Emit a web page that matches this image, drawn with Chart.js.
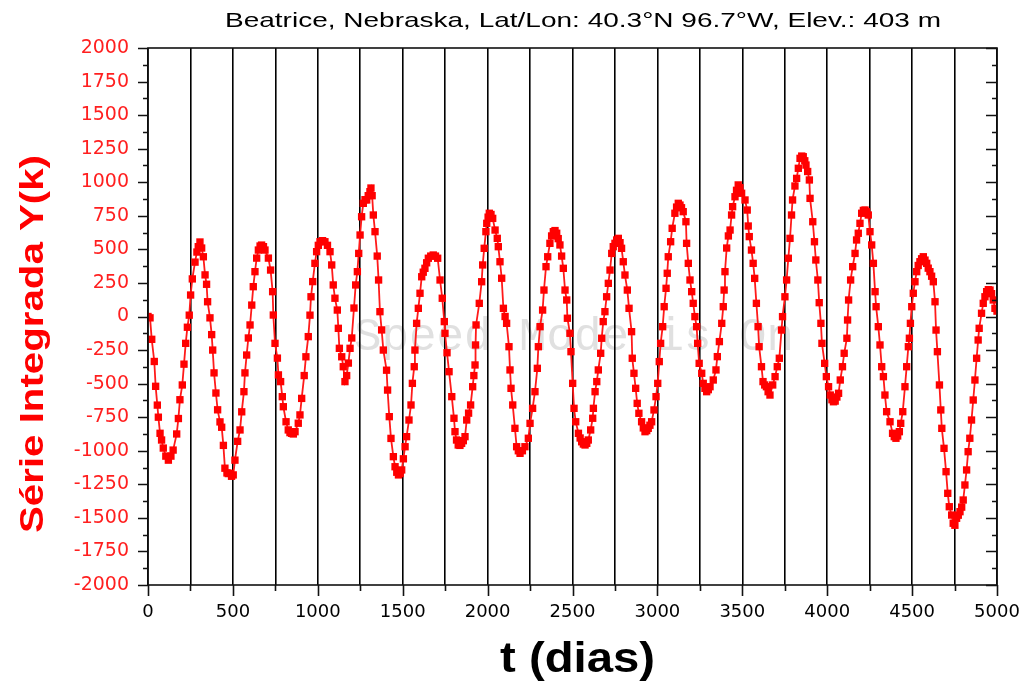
<!DOCTYPE html>
<html>
<head>
<meta charset="utf-8">
<script src="https://cdn.jsdelivr.net/npm/chart.js@4.4.1/dist/chart.umd.min.js"></script>
<style>
  html, body { margin: 0; padding: 0; background: #fff; }
  #wrap { width: 1029px; height: 684px; position: relative; }
</style>
</head>
<body>
<div id="wrap"><canvas id="chart" width="1029" height="684"></canvas></div>
<script>
// values (t in days, integrated series)
const days = [
  0, 12, 22, 37, 45, 55, 61, 71, 80, 90, 105, 120, 135, 148, 169, 179, 188, 202, 212, 222,
  232, 243, 251, 261, 277, 288, 296, 306, 316, 326, 336, 345, 351, 365, 375, 381, 389, 400, 410, 424,
  434, 444, 453, 465, 473, 483, 492, 502, 512, 528, 542, 552, 565, 571, 581, 591, 601, 611, 620, 630,
  640, 650, 660, 669, 680, 689, 709, 722, 734, 738, 748, 762, 768, 781, 791, 797, 813, 826, 836, 846,
  856, 866, 885, 895, 905, 920, 930, 944, 954, 960, 970, 983, 993, 1003, 1013, 1028, 1042, 1057, 1072, 1082,
  1091, 1101, 1115, 1121, 1127, 1141, 1150, 1160, 1170, 1180, 1190, 1200, 1213, 1223, 1233, 1241, 1249, 1258, 1268, 1278,
  1288, 1297, 1307, 1313, 1320, 1327, 1337, 1350, 1358, 1366, 1376, 1386, 1405, 1411, 1421, 1431, 1445, 1455, 1465, 1475,
  1485, 1494, 1504, 1514, 1523, 1537, 1549, 1557, 1568, 1572, 1582, 1592, 1602, 1612, 1621, 1631, 1641, 1651, 1665, 1680,
  1693, 1706, 1720, 1733, 1745, 1749, 1761, 1773, 1789, 1802, 1808, 1817, 1827, 1837, 1847, 1857, 1867, 1877, 1888, 1900,
  1912, 1919, 1926, 1929, 1932, 1951, 1965, 1971, 1980, 1990, 1995, 2003, 2010, 2020, 2030, 2044, 2057, 2063, 2073, 2083,
  2093, 2103, 2112, 2126, 2132, 2138, 2148, 2161, 2171, 2181, 2191, 2205, 2220, 2240, 2250, 2265, 2279, 2293, 2299, 2309,
  2324, 2332, 2344, 2354, 2367, 2377, 2387, 2397, 2407, 2416, 2426, 2436, 2446, 2456, 2466, 2470, 2485, 2491, 2501, 2509,
  2519, 2535, 2545, 2554, 2564, 2574, 2584, 2593, 2607, 2619, 2623, 2633, 2643, 2652, 2666, 2672, 2681, 2691, 2701, 2711,
  2721, 2731, 2740, 2750, 2760, 2770, 2780, 2789, 2799, 2809, 2823, 2833, 2848, 2852, 2862, 2872, 2881, 2891, 2907, 2917,
  2927, 2937, 2946, 2956, 2966, 2980, 2992, 3002, 3011, 3019, 3031, 3040, 3051, 3058, 3064, 3078, 3087, 3103, 3113, 3123,
  3133, 3142, 3152, 3168, 3172, 3182, 3192, 3202, 3211, 3221, 3231, 3237, 3246, 3261, 3270, 3280, 3290, 3300, 3310, 3329,
  3345, 3353, 3365, 3379, 3388, 3393, 3398, 3408, 3418, 3428, 3437, 3443, 3457, 3466, 3476, 3486, 3496, 3516, 3529, 3535,
  3541, 3554, 3564, 3573, 3583, 3593, 3599, 3613, 3622, 3632, 3642, 3652, 3663, 3679, 3693, 3706, 3718, 3731, 3737, 3751,
  3761, 3771, 3781, 3790, 3796, 3810, 3820, 3830, 3840, 3850, 3859, 3868, 3875, 3885, 3895, 3899, 3915, 3925, 3933, 3945,
  3953, 3963, 3969, 3985, 3995, 4008, 4018, 4028, 4037, 4047, 4057, 4067, 4077, 4090, 4100, 4116, 4120, 4126, 4138, 4150,
  4164, 4173, 4183, 4193, 4203, 4213, 4223, 4232, 4242, 4252, 4262, 4272, 4282, 4288, 4301, 4311, 4321, 4331, 4340, 4350,
  4370, 4385, 4395, 4405, 4415, 4425, 4433, 4445, 4458, 4468, 4478, 4484, 4490, 4498, 4507, 4517, 4527, 4536, 4546, 4556,
  4566, 4576, 4586, 4595, 4605, 4615, 4625, 4635, 4641, 4649, 4661, 4669, 4675, 4688, 4700, 4710, 4719, 4733, 4742, 4752,
  4762, 4772, 4782, 4792, 4801, 4811, 4821, 4830, 4840, 4850, 4860, 4870, 4880, 4889, 4895, 4909, 4919, 4929, 4939, 4949,
  4959, 4968, 4978, 4988, 5000
];
const serie = [
  0, -10, -170, -335, -520, -660, -750, -870, -920, -980, -1040, -1070, -1040, -995, -875, -760, -620, -510, -355, -200,
  -80, 10, 160, 280, 405, 480, 520, 555, 510, 445, 310, 240, 110, -10, -135, -250, -420, -570, -695, -785,
  -825, -960, -1130, -1165, -1170, -1168, -1190, -1180, -1070, -930, -845, -710, -560, -420, -287, -160, -63, 85, 222, 334,
  435, 495, 525, 532, 520, 495, 435, 346, 185, 11, -200, -310, -435, -485, -597, -672, -784, -845, -865, -870,
  -875, -858, -795, -733, -610, -440, -300, -150, 10, 147, 260, 396, 483, 530, 557, 565, 557, 530, 483, 384,
  235, 136, 48, -88, -237, -300, -374, -485, -440, -347, -237, -160, 63, 235, 334, 470, 607, 743, 843, 870,
  868, 900, 930, 957, 900, 756, 632, 450, 272, 36, -100, -250, -400, -548, -746, -908, -1044, -1119, -1160, -1180,
  -1170, -1143, -1060, -970, -895, -771, -659, -498, -374, -250, -51, 61, 173, 296, 330, 359, 400, 434, 450, 458,
  450, 434, 272, 136, -38, -125, -270, -411, -597, -758, -858, -920, -957, -960, -945, -925, -895, -771, -720, -659,
  -523, -440, -361, -212, -63, 98, 259, 384, 508, 632, 694, 740, 769, 760, 731, 644, 582, 520, 408, 285,
  61, 0, -51, -225, -398, -535, -659, -833, -970, -1000, -1019, -1000, -970, -907, -796, -684, -560, -386, -225, -76,
  48, 197, 371, 445, 545, 600, 632, 640, 620, 580, 533, 450, 359, 197, 123, -13, -125, -262, -498, -684,
  -784, -870, -905, -933, -950, -957, -945, -920, -845, -758, -684, -560, -485, -398, -274, -162, -38, 36, 147, 247,
  346, 470, 520, 545, 570, 582, 550, 508, 408, 309, 197, 61, -113, -311, -423, -535, -647, -721, -784, -830,
  -858, -850, -833, -810, -784, -696, -597, -498, -336, -200, -76, 73, 210, 322, 445, 557, 657, 769, 815, 843,
  830, 810, 781, 706, 545, 396, 272, 185, 98, -1, -76, -200, -349, -423, -498, -535, -560, -545, -523, -473,
  -398, -299, -187, -51, 73, 197, 334, 510, 600, 644, 756, 818, 892, 940, 980, 960, 918, 868, 793, 674,
  595, 495, 396, 284, 98, -76, -225, -374, -485, -510, -523, -560, -585, -510, -448, -374, -311, -101, -1, 147,
  272, 434, 582, 756, 868, 972, 1029, 1104, 1178, 1195, 1190, 1160, 1128, 1080, 1017, 880, 706, 557, 421, 272,
  103, -51, -200, -349, -448, -523, -585, -620, -635, -630, -600, -572, -473, -374, -274, -162, -26, 123, 272, 371,
  470, 570, 620, 694, 769, 790, 793, 780, 756, 632, 533, 396, 185, 73, -76, -212, -374, -448, -585, -709,
  -784, -870, -895, -907, -890, -858, -796, -709, -523, -374, -225, -162, -51, 73, 173, 259, 334, 380, 408, 430,
  445, 420, 396, 360, 334, 300, 259, 110, -101, -262, -510, -696, -833, -982, -1156, -1317, -1417, -1479, -1540, -1555,
  -1503, -1480, -1454, -1420, -1367, -1255, -1143, -1007, -907, -771, -622, -473, -311, -175, -88, 24, 98, 147, 185, 200,
  197, 170, 123, 61, 40
];

const titleText = "Beatrice, Nebraska, Lat/Lon: 40.3°N 96.7°W, Elev.: 403 m";
const yTitle = "Série Integrada Y(k)";
const xTitle = "t (dias)";
const watermark = "Speed Mode is On";

const points = days.map((d, i) => ({ x: d, y: serie[i] }));

// draw text squeezed/stretched to a given width
function fitText(ctx, txt, x, y, w, font, color, align) {
  ctx.save();
  ctx.font = font;
  ctx.fillStyle = color;
  ctx.textBaseline = 'alphabetic';
  const m = ctx.measureText(txt).width;
  const sx = w / m;
  ctx.translate(x, y);
  ctx.scale(sx, 1);
  ctx.textAlign = align || 'left';
  ctx.fillText(txt, 0, 0);
  ctx.restore();
}

const decor = {
  id: 'decor',
  beforeDraw(chart) {
    const ctx = chart.ctx;
    ctx.save();
    ctx.fillStyle = '#fff';
    ctx.fillRect(0, 0, chart.width, chart.height);
    ctx.restore();
    fitText(ctx, watermark, 354, 350, 440, '46px "Liberation Mono", "Courier New", monospace', '#e0e0e0');
  },
  afterDraw(chart) {
    const ctx = chart.ctx;
    const a = chart.chartArea;
    const xs = chart.scales.x, ys = chart.scales.y;
    ctx.save();
    ctx.strokeStyle = '#111';
    ctx.lineWidth = 1.6;
    ctx.strokeRect(a.left, a.top, a.right - a.left, a.bottom - a.top);
    ctx.beginPath();
    // y ticks: outward on the left, inward on the right
    for (let v = -2000; v <= 2000; v += 125) {
      const py = Math.round(ys.getPixelForValue(v)) + 0.5;
      const major = v % 250 === 0;
      ctx.moveTo(a.left, py); ctx.lineTo(a.left - (major ? 10 : 5), py);
      ctx.moveTo(a.right, py); ctx.lineTo(a.right - (major ? 11 : 5), py);
    }
    // x ticks below the axis
    for (let v = 0; v <= 5000; v += 250) {
      const px = Math.round(xs.getPixelForValue(v)) + 0.5;
      ctx.moveTo(px, a.bottom); ctx.lineTo(px, a.bottom + (v % 500 === 0 ? 11 : 6));
    }
    ctx.stroke();
    ctx.restore();

    fitText(ctx, titleText, 225, 27, 716, '21px "Liberation Sans", Arial, sans-serif', '#000');
    fitText(ctx, xTitle, 500, 672, 155, 'bold 42px "Liberation Sans", Arial, sans-serif', '#000');

    ctx.save();
    ctx.translate(43, 533);
    ctx.rotate(-Math.PI / 2);
    fitText(ctx, yTitle, 0, 0, 378, 'bold 33px "Liberation Sans", Arial, sans-serif', '#ff0000');
    ctx.restore();
  }
};

new Chart(document.getElementById('chart').getContext('2d'), {
  type: 'line',
  data: {
    datasets: [{
      data: points,
      borderColor: '#ff1a1a',
      backgroundColor: '#ff0000',
      borderWidth: 1.8,
      pointStyle: 'rect',
      pointRadius: 5.2,
      pointBorderWidth: 0,
      pointBackgroundColor: '#ff0000',
      tension: 0,
      fill: false
    }]
  },
  options: {
    responsive: false,
    animation: false,
    devicePixelRatio: 1,
    layout: { padding: { left: 0, top: 48, right: 32, bottom: 0 } },
    plugins: {
      legend: { display: false },
      title: { display: false },
      tooltip: { enabled: false }
    },
    scales: {
      x: {
        type: 'linear',
        min: 0,
        max: 5000,
        afterFit(scale) {
          scale.height = 99;
          scale.paddingLeft = 0;
          scale.paddingRight = 0;
        },
        ticks: {
          stepSize: 250,
          autoSkip: false,
          maxRotation: 0,
          padding: 17,
          color: '#000',
          font: { family: '"DejaVu Sans", sans-serif', size: 18 },
          callback: v => (v % 500 === 0 ? String(v) : '')
        },
        grid: { color: '#000', lineWidth: 1.6, drawTicks: false },
        border: { display: false }
      },
      y: {
        min: -2000,
        max: 2000,
        afterFit(scale) {
          scale.width = 148;
          scale.paddingTop = 0;
          scale.paddingBottom = 0;
        },
        ticks: {
          stepSize: 250,
          autoSkip: false,
          padding: 19,
          color: '#ff1f1f',
          font: { family: '"DejaVu Sans", sans-serif', size: 19 },
          callback: v => String(v)
        },
        grid: { color: 'rgba(0,0,0,0)', drawTicks: false },
        border: { display: false }
      }
    }
  },
  plugins: [decor]
});
</script>
</body>
</html>
